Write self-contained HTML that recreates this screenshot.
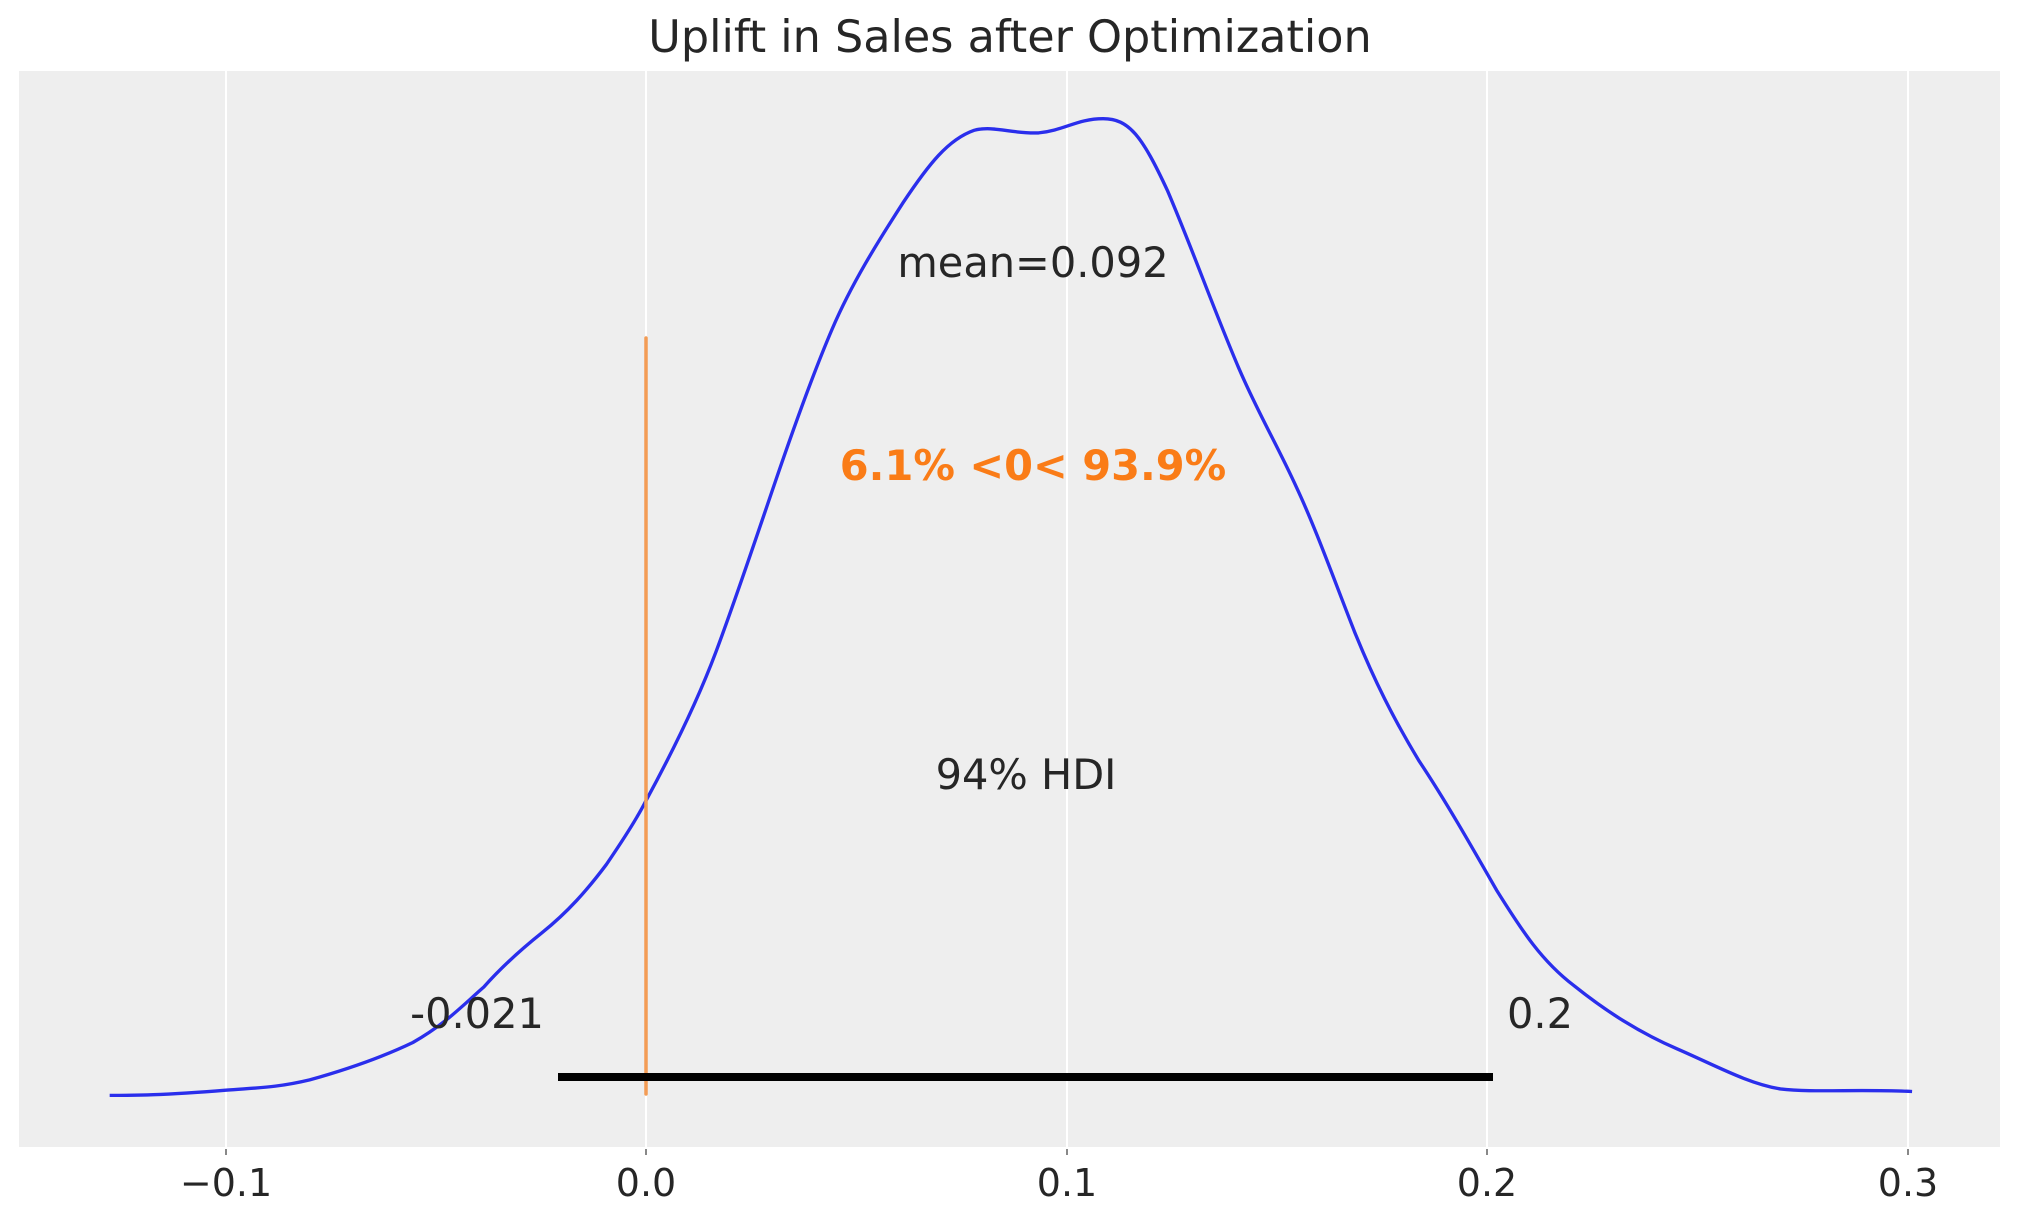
<!DOCTYPE html>
<html><head><meta charset="utf-8"><style>
html,body{margin:0;padding:0;background:#fff;}
svg{display:block;}
text{font-family:"DejaVu Sans","Liberation Sans",sans-serif;fill:#262626;}
</style></head><body>
<svg width="2023" height="1223" viewBox="0 0 2023 1223" xmlns="http://www.w3.org/2000/svg">
<rect x="0" y="0" width="2023" height="1223" fill="#fff"/>
<rect x="19" y="71" width="1981" height="1076" fill="#eeeeee"/>
<g stroke="#ffffff" stroke-width="2">
<line x1="226" y1="71" x2="226" y2="1147"/>
<line x1="646" y1="71" x2="646" y2="1147"/>
<line x1="1067" y1="71" x2="1067" y2="1147"/>
<line x1="1487" y1="71" x2="1487" y2="1147"/>
<line x1="1908" y1="71" x2="1908" y2="1147"/>
</g>
<g stroke="#888" stroke-width="2">
<line x1="226" y1="1149" x2="226" y2="1155"/>
<line x1="646" y1="1149" x2="646" y2="1155"/>
<line x1="1067" y1="1149" x2="1067" y2="1155"/>
<line x1="1487" y1="1149" x2="1487" y2="1155"/>
<line x1="1908" y1="1149" x2="1908" y2="1155"/>
</g>
<g transform="scale(1.2902)">
<path fill="none" stroke="#2a2eec" stroke-width="2.6" stroke-linejoin="round" d="M85,849 C105,849 125,849 175,845 C200,843 215,843 240,837 C265,830 295,820 320,808 C345,794 360,778 375,765 C390,748 405,735 420,723 C440,707 455,690 470,670 C485,648 495,632 501,620 C520,585 540,545 555,505 C570,465 585,420 600,376 C615,332 630,290 645,255 C660,220 680,188 700,157 C720,127 735,108 755,101 C770,97 785,104 805,103 C825,101 835,92 855,92 C875,92 885,105 905,148 C925,195 940,238 960,285 C975,320 990,345 1005,378 C1020,410 1035,452 1050,490 C1065,527 1080,557 1100,590 C1120,620 1140,655 1160,690 C1180,722 1195,745 1220,764 C1245,784 1270,800 1300,813 C1330,826 1355,840 1380,844 C1405,847 1440,844 1482,846"/>
</g>
<line x1="646" y1="338" x2="646" y2="1094" stroke="#f39c55" stroke-width="3.5" stroke-linecap="round"/>
<line x1="558" y1="1077" x2="1493" y2="1077" stroke="#000" stroke-width="8"/>
<text x="1010" y="52" font-size="44.5" text-anchor="middle">Uplift in Sales after Optimization</text>
<text x="1033" y="277" font-size="41.5" text-anchor="middle">mean=0.092</text>
<text x="1033" y="480" font-size="41.5" text-anchor="middle" font-weight="bold" style="fill:#fa7c17">6.1% &lt;0&lt; 93.9%</text>
<text x="1026" y="789" font-size="41.5" text-anchor="middle">94% HDI</text>
<text x="477" y="1028" font-size="41.5" text-anchor="middle">-0.021</text>
<text x="1507" y="1028" font-size="41.5">0.2</text>
<g font-size="38" text-anchor="middle">
<text x="226" y="1196" text-anchor="middle">−0.1</text>
<text x="646" y="1196" text-anchor="middle">0.0</text>
<text x="1067" y="1196" text-anchor="middle">0.1</text>
<text x="1487" y="1196" text-anchor="middle">0.2</text>
<text x="1908" y="1196" text-anchor="middle">0.3</text>
</g>
</svg>
</body></html>
